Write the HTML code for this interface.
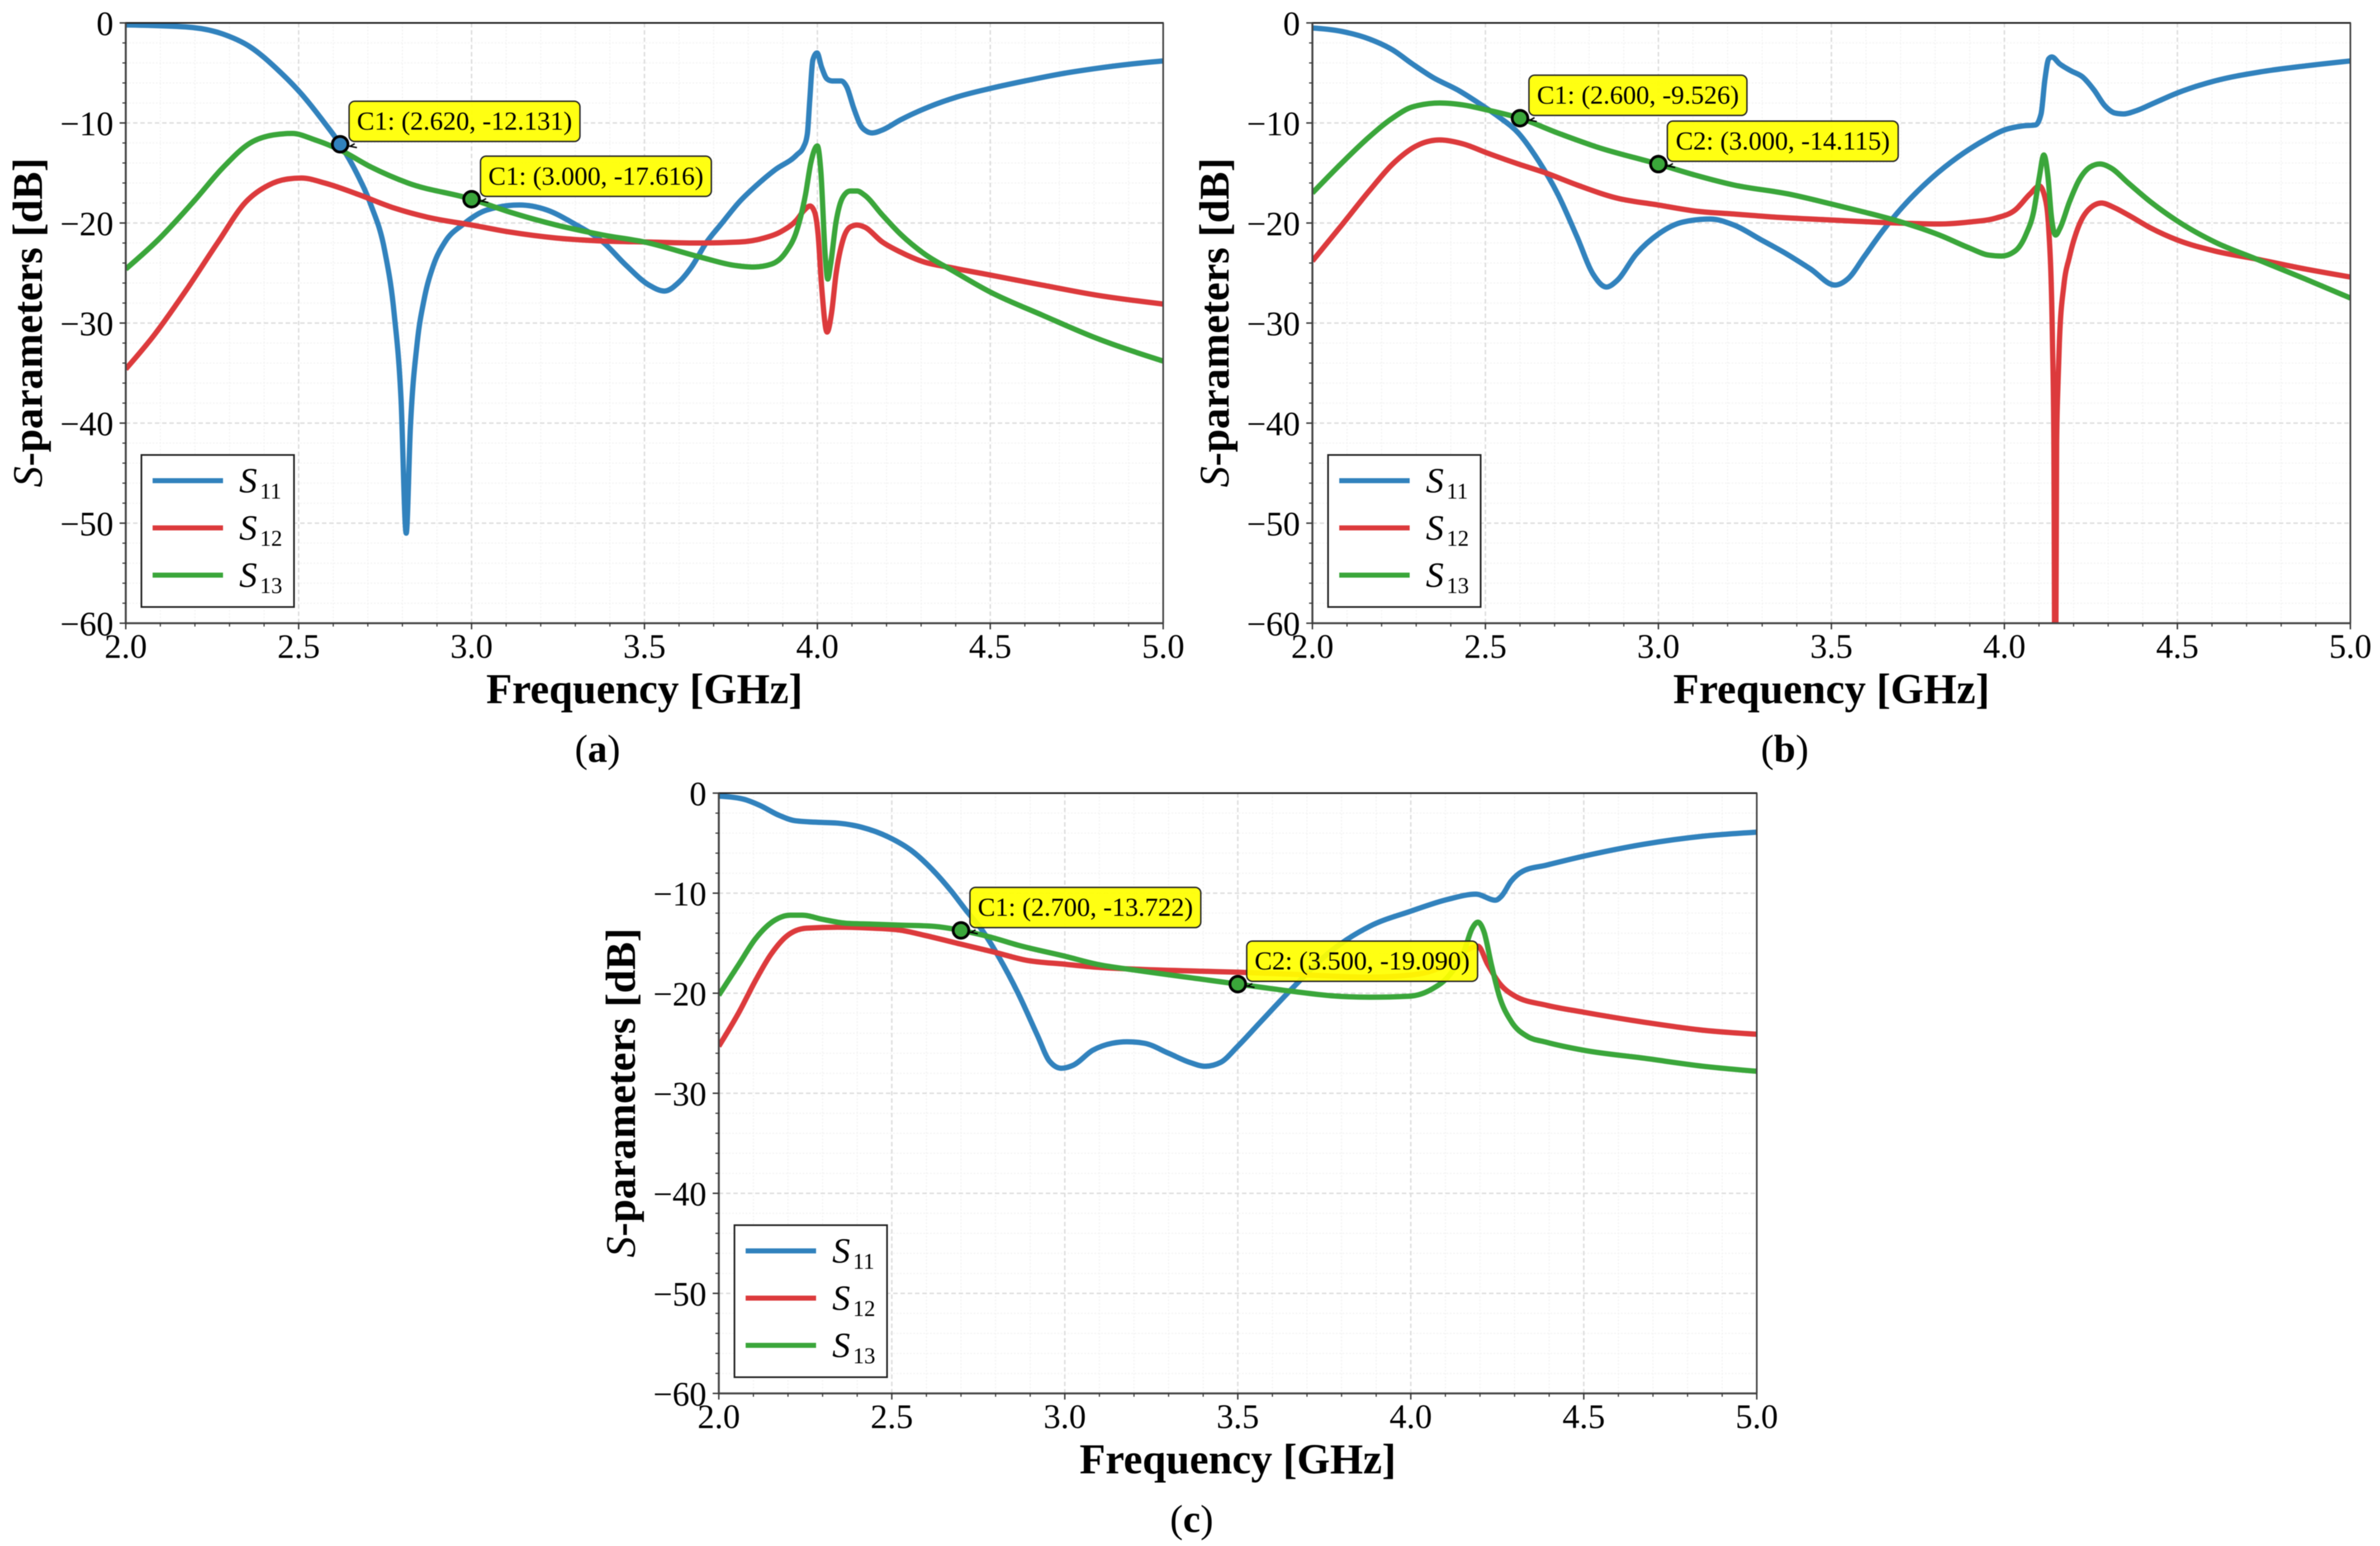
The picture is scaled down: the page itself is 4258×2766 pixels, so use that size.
<!DOCTYPE html>
<html lang="en">
<head>
<meta charset="utf-8">
<title>S-parameters panels</title>
<style>
html,body{margin:0;padding:0;background:#fff}
svg{display:block;filter:blur(0.7px)}
text{font-family:"Liberation Serif",serif;fill:#000}
</style>
</head>
<body>
<svg id="figure" xmlns="http://www.w3.org/2000/svg" width="4258" height="2766" viewBox="0 0 4258 2766"></svg>
<script>
// ---------- shared axis data ----------
const xTickValues = [2, 2.5, 3, 3.5, 4, 4.5, 5];
const xTickLabels = ['2.0', '2.5', '3.0', '3.5', '4.0', '4.5', '5.0'];
const yTickValues = [0, -10, -20, -30, -40, -50, -60];
const yTickLabels = ['0', '\u221210', '\u221220', '\u221230', '\u221240', '\u221250', '\u221260'];
const xMinorValues = [2.1,2.2,2.3,2.4,2.6,2.7,2.8,2.9,3.1,3.2,3.3,3.4,3.6,3.7,3.8,3.9,4.1,4.2,4.3,4.4,4.6,4.7,4.8,4.9];
const yMinorValues = [-2,-4,-6,-8,-12,-14,-16,-18,-22,-24,-26,-28,-32,-34,-36,-38,-42,-44,-46,-48,-52,-54,-56,-58];
const xDomain = [2, 5];
const yDomain = [-60, 0];

// ---------- panel (a) ----------
const aS11Freq = [2,2.173,2.28,2.36,2.44,2.508,2.575,2.62,2.669,2.709,2.749,2.776,2.796,2.811,2.823,2.843,2.863,2.89,2.923,2.977,3.044,3.138,3.218,3.298,3.38,3.446,3.513,3.558,3.6,3.636,3.68,3.722,3.774,3.825,3.877,3.94,3.96,3.971,3.978,3.987,3.999,4.012,4.028,4.043,4.069,4.085,4.105,4.126,4.141,4.159,4.188,4.24,4.322,4.404,4.5,4.6,4.703,4.806,4.91,5];
const aS11Db = [-0.2,-0.4,-1.1,-2.4,-4.7,-7.1,-10,-12.13,-15.1,-18.2,-22.8,-29,-37.6,-51,-40.5,-31.9,-27.6,-24.2,-21.9,-20.1,-18.7,-18.2,-18.7,-20.1,-21.9,-24.2,-26.2,-26.8,-25.9,-24.4,-21.9,-20.1,-17.9,-16.2,-14.7,-13.2,-12.4,-11.1,-7.7,-3.7,-3,-4.4,-5.6,-5.8,-5.8,-6.4,-8.5,-10.3,-10.8,-11,-10.7,-9.7,-8.4,-7.4,-6.55,-5.8,-5.1,-4.55,-4.1,-3.8];
const aS12Freq = [2,2.08,2.173,2.267,2.347,2.414,2.468,2.508,2.575,2.669,2.776,2.883,3,3.11,3.245,3.38,3.513,3.647,3.774,3.846,3.898,3.94,3.96,3.979,3.992,4.002,4.012,4.028,4.041,4.054,4.074,4.095,4.115,4.136,4.188,4.24,4.3,4.393,4.5,4.65,4.806,5];
const aS12Db = [-34.6,-31.3,-26.8,-21.9,-17.9,-16.2,-15.6,-15.5,-16,-17.1,-18.5,-19.5,-20.2,-20.9,-21.5,-21.8,-21.9,-22,-21.9,-21.5,-20.8,-19.7,-18.8,-18.3,-18.9,-21.1,-26.2,-30.9,-29,-25.1,-21.7,-20.4,-20.2,-20.4,-21.9,-22.9,-23.8,-24.5,-25.2,-26.2,-27.2,-28.1];
const aS13Freq = [2,2.093,2.2,2.28,2.36,2.427,2.481,2.548,2.62,2.709,2.816,3,3.11,3.245,3.38,3.5,3.661,3.754,3.816,3.868,3.909,3.94,3.966,3.981,4,4.01,4.023,4.03,4.038,4.054,4.074,4.095,4.115,4.136,4.188,4.24,4.31,4.393,4.5,4.65,4.806,5];
const aS13Db = [-24.6,-21.7,-17.7,-14.5,-12,-11.2,-11.05,-11.7,-12.7,-14.4,-16,-17.616,-18.9,-20.2,-21.2,-21.9,-23.4,-24.2,-24.4,-24.1,-22.9,-20.8,-17.1,-14,-12.3,-14.8,-23.4,-25.6,-24.2,-19.9,-17.4,-16.8,-16.8,-17.2,-19.2,-21.1,-23.1,-24.8,-26.9,-29.2,-31.5,-33.8];
const aCursorFreq = [2.62, 3.0];
const aCursorDb = [-12.131, -17.616];
const aCursorLabels = ['C1: (2.620, -12.131)', 'C1: (3.000, -17.616)'];
const aCursorSeries = ['S11', 'S13'];

// ---------- panel (b) ----------
const bS11Freq = [2,2.085,2.164,2.232,2.289,2.346,2.425,2.493,2.539,2.595,2.652,2.709,2.765,2.811,2.85,2.879,2.936,3,3.071,3.15,3.218,3.298,3.366,3.44,3.51,3.55,3.594,3.648,3.703,3.79,3.866,3.943,4,4.052,4.09,4.106,4.117,4.128,4.137,4.16,4.193,4.226,4.259,4.291,4.319,4.344,4.379,4.433,4.5,4.608,4.739,4.87,5];
const bS11Db = [-0.5,-0.85,-1.6,-2.7,-4.1,-5.4,-6.8,-8.3,-9.4,-11,-13.7,-17.1,-21.4,-25.1,-26.4,-25.8,-23.1,-21.1,-19.9,-19.6,-20.2,-21.7,-23,-24.6,-26.2,-25.5,-23.4,-20.8,-18.5,-15.5,-13.4,-11.7,-10.7,-10.3,-10.2,-9.1,-5.7,-3.6,-3.4,-4.1,-4.8,-5.4,-6.7,-8.3,-9,-9.1,-8.8,-8,-7,-5.8,-4.9,-4.3,-3.8];
const bS12Freq = [2,2.085,2.164,2.232,2.3,2.368,2.436,2.505,2.595,2.675,2.765,2.879,3,3.105,3.218,3.332,3.5,3.692,3.812,3.899,3.976,4.031,4.074,4.101,4.117,4.128,4.139,4.143,4.147,4.151,4.155,4.159,4.172,4.188,4.216,4.248,4.281,4.314,4.358,4.423,4.5,4.608,4.728,4.87,5];
const bS12Db = [-23.8,-20.2,-16.8,-14.1,-12.3,-11.7,-12.1,-13,-14.1,-15,-16.2,-17.5,-18.2,-18.8,-19.1,-19.4,-19.7,-20,-20.1,-19.9,-19.5,-18.7,-17.1,-16.3,-17.4,-20.5,-31.9,-42,-75,-42,-36,-31.9,-26.2,-23.4,-20.2,-18.5,-18,-18.4,-19.2,-20.5,-21.7,-22.8,-23.6,-24.6,-25.4];
const bS13Freq = [2,2.085,2.164,2.232,2.289,2.368,2.436,2.505,2.6,2.709,2.822,3,3.105,3.218,3.376,3.5,3.594,3.692,3.812,3.899,3.954,3.992,4.031,4.063,4.085,4.101,4.114,4.126,4.136,4.148,4.161,4.188,4.216,4.248,4.276,4.308,4.358,4.423,4.5,4.608,4.728,4.87,5];
const bS13Db = [-17,-14,-11.4,-9.5,-8.4,-8,-8.2,-8.7,-9.526,-11,-12.4,-14.115,-15.2,-16.2,-17.1,-18.1,-18.9,-19.8,-21.2,-22.5,-23.2,-23.3,-22.8,-21.1,-18.8,-15.4,-13.2,-15.4,-19.4,-21.2,-20.5,-17.9,-15.7,-14.4,-14.1,-14.5,-16,-17.9,-19.8,-21.9,-23.6,-25.6,-27.5];
const bCursorFreq = [2.6, 3.0];
const bCursorDb = [-9.526, -14.115];
const bCursorLabels = ['C1: (2.600, -9.526)', 'C2: (3.000, -14.115)'];
const bCursorSeries = ['S13', 'S13'];

// ---------- panel (c) ----------
const cS11Freq = [2,2.071,2.117,2.173,2.219,2.276,2.344,2.412,2.491,2.559,2.616,2.672,2.712,2.763,2.808,2.865,2.922,2.956,2.99,3.024,3.081,3.137,3.18,3.23,3.3,3.36,3.406,3.451,3.5,3.565,3.655,3.769,3.882,4,4.109,4.188,4.245,4.262,4.29,4.324,4.392,4.5,4.675,4.845,5];
const cS11Db = [-0.3,-0.6,-1.2,-2.2,-2.75,-2.9,-3,-3.4,-4.4,-5.8,-7.6,-9.8,-11.6,-13.8,-16.3,-20,-24.3,-26.8,-27.5,-27.2,-25.7,-25,-24.85,-25,-26,-26.9,-27.3,-26.9,-25.3,-22.9,-19.6,-15.8,-13.3,-11.8,-10.6,-10.1,-10.7,-10.3,-8.8,-7.8,-7.2,-6.3,-5.1,-4.3,-3.9];
const cS12Freq = [2,2.06,2.105,2.151,2.196,2.253,2.344,2.446,2.525,2.593,2.7,2.797,2.888,3,3.092,3.205,3.396,3.5,3.655,3.882,3.995,4.086,4.143,4.194,4.222,4.256,4.302,4.392,4.5,4.675,4.845,5];
const cS12Db = [-25.3,-21.8,-18.8,-16.1,-14.3,-13.5,-13.4,-13.5,-13.7,-14.2,-15.1,-15.9,-16.7,-17.1,-17.4,-17.6,-17.8,-17.9,-18.1,-18.4,-18.2,-17.4,-16.1,-15.3,-17.1,-19,-20.3,-21.2,-21.9,-22.9,-23.7,-24.1];
const cS13Freq = [2,2.06,2.105,2.162,2.207,2.241,2.298,2.366,2.446,2.525,2.616,2.7,2.786,2.865,3,3.092,3.205,3.396,3.5,3.655,3.769,3.882,3.995,4.063,4.109,4.154,4.177,4.194,4.211,4.234,4.256,4.29,4.336,4.392,4.5,4.675,4.845,5];
const cS13Db = [-20.2,-17,-14.6,-12.7,-12.2,-12.2,-12.6,-13,-13.1,-13.2,-13.3,-13.722,-14.4,-15.2,-16.3,-17.1,-17.7,-18.6,-19.09,-19.8,-20.25,-20.4,-20.3,-19.55,-18.3,-15.8,-13.55,-12.9,-13.8,-17.3,-20.3,-22.8,-24.3,-24.9,-25.7,-26.5,-27.3,-27.8];
const cCursorFreq = [2.7, 3.5];
const cCursorDb = [-13.722, -19.09];
const cCursorLabels = ['C1: (2.700, -13.722)', 'C2: (3.500, -19.090)'];
const cCursorSeries = ['S13', 'S13'];

// ---------- drawing ----------
const seriesColors = { S11: '#3182bd', S12: '#dc3a3c', S13: '#3aa63a' };
const svg = document.getElementById('figure');
const NS = 'http://www.w3.org/2000/svg';

function mk(parent, tag, attrs, content) {
  const el = document.createElementNS(NS, tag);
  for (const k in attrs) el.setAttribute(k, attrs[k]);
  if (content !== undefined) el.textContent = content;
  parent.appendChild(el);
  return el;
}

function monotonePath(px, py) {
  const n = px.length;
  const dx = [], sl = [], t = new Array(n);
  for (let i = 0; i < n - 1; i++) {
    dx[i] = px[i + 1] - px[i];
    sl[i] = (py[i + 1] - py[i]) / dx[i];
  }
  for (let i = 1; i < n - 1; i++) {
    const par = (sl[i - 1] * dx[i] + sl[i] * dx[i - 1]) / (dx[i - 1] + dx[i]);
    const sgn = (Math.sign(sl[i - 1]) + Math.sign(sl[i])) / 2;
    t[i] = 2 * sgn * Math.min(Math.abs(sl[i - 1]), Math.abs(sl[i]), 0.5 * Math.abs(par));
  }
  t[0] = (3 * sl[0] - t[1]) / 2;
  t[n - 1] = (3 * sl[n - 2] - t[n - 2]) / 2;
  let d = 'M' + px[0].toFixed(2) + ' ' + py[0].toFixed(2);
  for (let i = 0; i < n - 1; i++) {
    const h = dx[i] / 3;
    d += 'C' + (px[i] + h).toFixed(2) + ' ' + (py[i] + t[i] * h).toFixed(2) + ' ' +
         (px[i + 1] - h).toFixed(2) + ' ' + (py[i + 1] - t[i + 1] * h).toFixed(2) + ' ' +
         px[i + 1].toFixed(2) + ' ' + py[i + 1].toFixed(2);
  }
  return d;
}

function drawPanel(p) {
  const L = p.left, T = p.top, W = p.width, H = 1074;
  const xScale = f => L + (f - xDomain[0]) / (xDomain[1] - xDomain[0]) * W;
  const yScale = v => T + (yDomain[1] - v) / (yDomain[1] - yDomain[0]) * H;

  const g = mk(svg, 'g', {});
  
  

  const clipId = 'plot-clip-' + p.id;
  const defs = mk(g, 'defs', {});
  const clip = mk(defs, 'clipPath', { id: clipId });
  mk(clip, 'rect', { x: L, y: T, width: W, height: H });

  // minor grid
  const minorGrid = mk(g, 'g', { stroke: '#f3f3f3', 'stroke-width': 2, 'stroke-dasharray': '3 3', fill: 'none' });
  
  
  xMinorValues.forEach(v => {
    const ln = mk(minorGrid, 'line', { x1: xScale(v), x2: xScale(v), y1: T, y2: T + H });
    
    
  });
  yMinorValues.forEach(v => {
    const ln = mk(minorGrid, 'line', { x1: L, x2: L + W, y1: yScale(v), y2: yScale(v) });
    
    
  });

  // major grid
  const majorGrid = mk(g, 'g', { stroke: '#dcdcdc', 'stroke-width': 2.5, 'stroke-dasharray': '8 5', fill: 'none' });
  
  
  xTickValues.forEach(v => {
    const ln = mk(majorGrid, 'line', { x1: xScale(v), x2: xScale(v), y1: T, y2: T + H });
    
    
  });
  yTickValues.forEach(v => {
    const ln = mk(majorGrid, 'line', { x1: L, x2: L + W, y1: yScale(v), y2: yScale(v) });
    
    
  });

  // series
  const lines = mk(g, 'g', { 'clip-path': 'url(#' + clipId + ')', fill: 'none', 'stroke-width': 9.5, 'stroke-linejoin': 'round' });
  
  
  p.series.forEach(s => {
    const path = mk(lines, 'path', { d: monotonePath(s.freq.map(xScale), s.db.map(yScale)), stroke: seriesColors[s.key] });
    
    
  });

  // spines
  const spines = mk(g, 'g', { fill: 'none' });
  
  
  mk(spines, 'line', { x1: L - 1, x2: L + W + 1, y1: T, y2: T, stroke: '#222', 'stroke-width': 3 });
  mk(spines, 'line', { x1: L + W, x2: L + W, y1: T, y2: T + H, stroke: '#444', 'stroke-width': 3 });
  mk(spines, 'line', { x1: L, x2: L, y1: T, y2: T + H, stroke: '#444', 'stroke-width': 3.5 });
  mk(spines, 'line', { x1: L - 1, x2: L + W + 1, y1: T + H, y2: T + H, stroke: '#444', 'stroke-width': 3.5 });

  // ticks
  const ticks = mk(g, 'g', { stroke: '#333' });
  
  
  xTickValues.forEach(v => {
    const ln = mk(ticks, 'line', { x1: xScale(v), x2: xScale(v), y1: T + H, y2: T + H + 11, 'stroke-width': 2.5 });
    
    
  });
  xMinorValues.forEach(v => {
    const ln = mk(ticks, 'line', { x1: xScale(v), x2: xScale(v), y1: T + H, y2: T + H + 6, 'stroke-width': 2 });
    
    
  });
  yTickValues.forEach(v => {
    const ln = mk(ticks, 'line', { x1: L - 11, x2: L, y1: yScale(v), y2: yScale(v), 'stroke-width': 2.5 });
    
    
  });
  yMinorValues.forEach(v => {
    const ln = mk(ticks, 'line', { x1: L - 6, x2: L, y1: yScale(v), y2: yScale(v), 'stroke-width': 2 });
    
    
  });

  // tick labels
  xTickValues.forEach((v, i) => {
    const t = mk(g, 'text', { x: xScale(v), y: T + H + 62, 'font-size': 61, 'text-anchor': 'middle' }, xTickLabels[i]);
    
    
  });
  yTickValues.forEach((v, i) => {
    const t = mk(g, 'text', { x: L - 22, y: yScale(v) + 22, 'font-size': 61, 'text-anchor': 'end' }, yTickLabels[i]);
    
    
  });

  // axis titles
  const xTitle = mk(g, 'text', { x: L + W / 2, y: T + 1217, 'font-size': 76, 'font-weight': 'bold', 'text-anchor': 'middle' }, 'Frequency [GHz]');
  
  

  const yx = L - 150, yy = T + 536;
  const yTitle = mk(g, 'text', { x: yx, y: yy, 'font-size': 75, 'font-weight': 'bold', 'text-anchor': 'middle', transform: 'rotate(-90 ' + yx + ' ' + yy + ')' });
  
  
  mk(yTitle, 'tspan', { 'font-style': 'italic', 'font-weight': 'normal' }, 'S');
  mk(yTitle, 'tspan', {}, '-parameters [dB]');

  // legend
  const legend = mk(g, 'g', {});
  
  
  const lx = L + 28, ly = T + 773;
  const lbox = mk(legend, 'rect', { x: lx, y: ly, width: 273, height: 272, fill: '#fff', stroke: '#222', 'stroke-width': 3 });
  
  
  p.series.forEach((s, i) => {
    const cy = ly + 46 + i * 84.5;
    const sw = mk(legend, 'line', { x1: lx + 20, x2: lx + 146, y1: cy, y2: cy, stroke: seriesColors[s.key], 'stroke-width': 9 });
    
    
    const label = mk(legend, 'text', { x: lx + 175, y: cy + 21, 'font-size': 64, 'font-style': 'italic' });
    
    
    mk(label, 'tspan', {}, 'S');
    mk(label, 'tspan', { x: lx + 212, dy: 11, 'font-size': 40, 'font-style': 'normal' }, s.key.slice(1));
  });

  // cursors
  p.cursorFreq.forEach((f, i) => {
    const mx = xScale(f), my = yScale(p.cursorDb[i]);
    const boxW = p.cursorBoxW[i], boxH = 72;
    const bx = mx + 16, by = my - 5 - boxH;
    const cur = mk(g, 'g', {});
    
    
    const arrow = mk(cur, 'path', { d: 'M' + mx + ' ' + my + 'L' + (mx + 30) + ' ' + (my + 6) + 'M' + (mx + 17) + ' ' + (my + 4) + 'L' + (mx + 26) + ' ' + (my - 1), stroke: '#000', 'stroke-width': 2.5, fill: 'none' });
    
    
    const marker = mk(cur, 'circle', { cx: mx, cy: my, r: 14, fill: seriesColors[p.cursorSeries[i]], stroke: '#000', 'stroke-width': 5 });
    
    
    const box = mk(cur, 'rect', { x: bx, y: by, width: boxW, height: boxH, rx: 10, ry: 10, fill: '#ffff00', 'fill-opacity': 0.93, stroke: '#222', 'stroke-width': 2.5 });
    
    
    const txt = mk(cur, 'text', { x: bx + boxW / 2, y: by + boxH - 21, 'font-size': 47, 'text-anchor': 'middle' }, p.cursorLabels[i]);
    
    
  });

  // caption
  const cap = mk(g, 'text', { x: p.captionX, y: T + 1322, 'font-size': 70, 'text-anchor': 'middle' });
  
  
  mk(cap, 'tspan', {}, '(');
  mk(cap, 'tspan', { 'font-weight': 'bold' }, p.id);
  mk(cap, 'tspan', {}, ')');
}

drawPanel({
  id: 'a', left: 225, top: 41, width: 1856, captionX: 1069,
  series: [
    { key: 'S11', freq: aS11Freq, db: aS11Db },
    { key: 'S12', freq: aS12Freq, db: aS12Db },
    { key: 'S13', freq: aS13Freq, db: aS13Db }
  ],
  cursorFreq: aCursorFreq, cursorDb: aCursorDb, cursorLabels: aCursorLabels, cursorSeries: aCursorSeries,
  cursorBoxW: [413, 413]
});
drawPanel({
  id: 'b', left: 2348, top: 41, width: 1857, captionX: 3193,
  series: [
    { key: 'S11', freq: bS11Freq, db: bS11Db },
    { key: 'S12', freq: bS12Freq, db: bS12Db },
    { key: 'S13', freq: bS13Freq, db: bS13Db }
  ],
  cursorFreq: bCursorFreq, cursorDb: bCursorDb, cursorLabels: bCursorLabels, cursorSeries: bCursorSeries,
  cursorBoxW: [390, 413]
});
drawPanel({
  id: 'c', left: 1286, top: 1419, width: 1857, captionX: 2132,
  series: [
    { key: 'S11', freq: cS11Freq, db: cS11Db },
    { key: 'S12', freq: cS12Freq, db: cS12Db },
    { key: 'S13', freq: cS13Freq, db: cS13Db }
  ],
  cursorFreq: cCursorFreq, cursorDb: cCursorDb, cursorLabels: cCursorLabels, cursorSeries: cCursorSeries,
  cursorBoxW: [413, 413]
});
</script>
</body>
</html>
